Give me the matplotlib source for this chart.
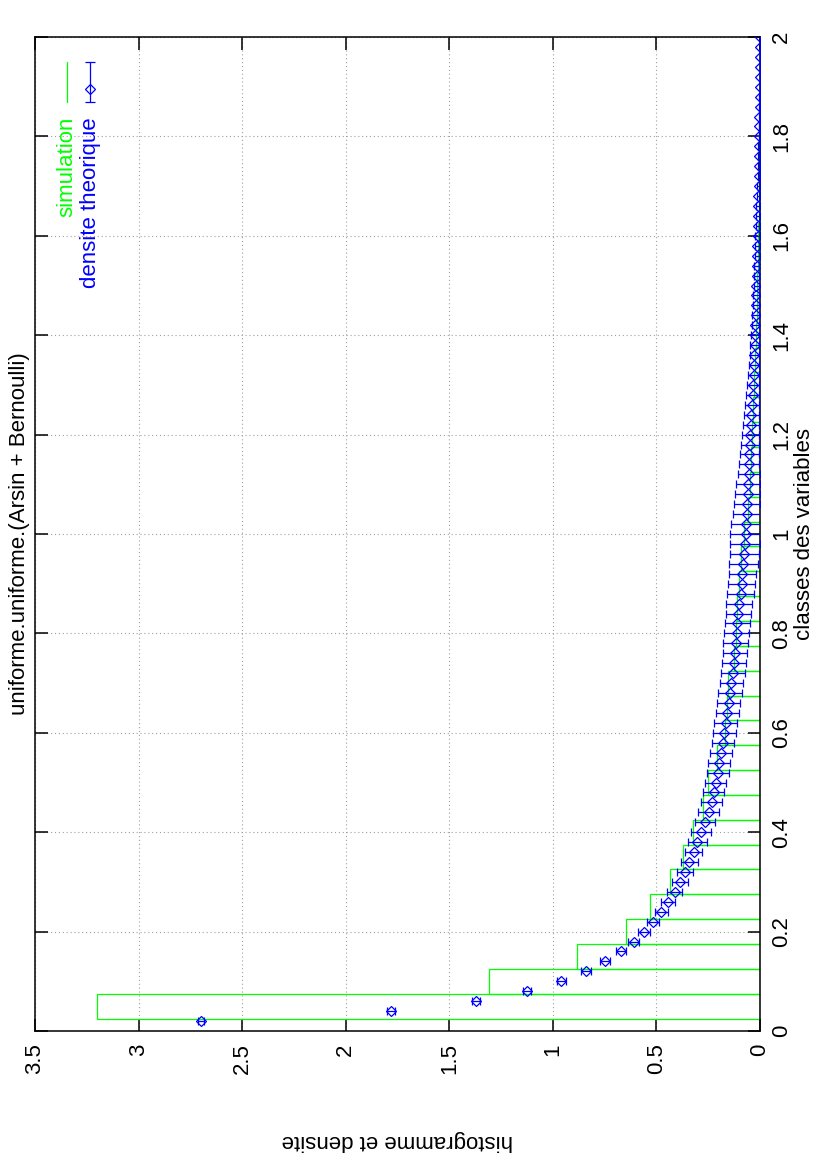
import numpy as np
import matplotlib
matplotlib.use("Agg")
import matplotlib.pyplot as plt

plt.rcParams["font.family"] = ["Liberation Sans", "DejaVu Sans"]
plt.rcParams["font.size"] = 16

# densite theorique : points tous les 0.02 sur [0.02, 2]
classes_pts = np.round(np.arange(1, 101) * 0.02, 2)
densite = [
    2.70, 1.78, 1.37, 1.125, 0.96, 0.84, 0.748, 0.672, 0.61, 0.56,
    0.515, 0.476, 0.443, 0.412, 0.386, 0.362, 0.341, 0.321, 0.303, 0.285,
    0.266, 0.248, 0.234, 0.223, 0.214, 0.205, 0.196, 0.188, 0.180, 0.173,
    0.165, 0.158, 0.151, 0.144, 0.138, 0.132, 0.127, 0.122, 0.118, 0.113,
    0.109, 0.104, 0.100, 0.094, 0.089, 0.085, 0.081, 0.077, 0.073, 0.069,
    0.066, 0.064, 0.062, 0.059, 0.057, 0.055, 0.053, 0.051, 0.049, 0.047,
    0.045, 0.042, 0.039, 0.036, 0.033, 0.031, 0.029, 0.027, 0.025, 0.024,
    0.022, 0.021, 0.019, 0.018, 0.017, 0.016, 0.015, 0.014, 0.013, 0.012,
    0.011, 0.010, 0.009, 0.008, 0.007, 0.006, 0.006, 0.005, 0.004, 0.004,
    0.003, 0.003, 0.002, 0.002, 0.001, 0.001, 0.001, 0.0005, 0.0002, 0.0,
]
erreur = [
    0.015, 0.020, 0.020, 0.021, 0.022, 0.023, 0.024, 0.025, 0.026, 0.027,
    0.029, 0.031, 0.033, 0.035, 0.037, 0.039, 0.041, 0.043, 0.045, 0.047,
    0.048, 0.049, 0.050, 0.051, 0.052, 0.053, 0.053, 0.054, 0.054, 0.055,
    0.055, 0.056, 0.056, 0.057, 0.057, 0.058, 0.058, 0.059, 0.059, 0.060,
    0.061, 0.062, 0.063, 0.064, 0.066, 0.067, 0.069, 0.070, 0.072, 0.074,
    0.072, 0.068, 0.064, 0.060, 0.057, 0.053, 0.050, 0.046, 0.043, 0.040,
    0.038, 0.035, 0.032, 0.030, 0.028, 0.026, 0.024, 0.022, 0.021, 0.020,
    0.018, 0.017, 0.016, 0.015, 0.014, 0.013, 0.012, 0.012, 0.011, 0.011,
    0.010, 0.009, 0.008, 0.007, 0.006, 0.005, 0.005, 0.004, 0.004, 0.003,
    0.003, 0.003, 0.002, 0.002, 0.001, 0.001, 0.001, 0.0005, 0.0002, 0.0,
]

# histogramme de la simulation : classes de largeur 0.05
classes_hist = np.round(np.arange(1, 41) * 0.05, 2)
histo = [
    3.20, 1.31, 0.885, 0.647, 0.533, 0.433, 0.370, 0.322, 0.274, 0.250,
    0.206, 0.170, 0.160, 0.153, 0.125, 0.118, 0.112, 0.100, 0.090, 0.075,
    0.060, 0.050, 0.045, 0.040, 0.035, 0.030, 0.025, 0.020, 0.016, 0.013,
    0.010, 0.008, 0.006, 0.005, 0.004, 0.003, 0.002, 0.001, 0.001, 0.0,
]

xticks = [0, 0.2, 0.4, 0.6, 0.8, 1, 1.2, 1.4, 1.6, 1.8, 2]
yticks = [0, 0.5, 1, 1.5, 2, 2.5, 3, 3.5]

W, H = 817, 1168
fig = plt.figure(figsize=(W / 100, H / 100), dpi=100)
ax = fig.add_axes([35 / W, 1 - 1031 / H, 725 / W, 994 / H])

# graphique tourne de 90 degres : densite a l'horizontale, classes a la verticale
ax.barh(classes_hist, histo, height=0.05, fill=False, edgecolor="#00ff00",
        linewidth=0.9, zorder=2)
ax.errorbar(densite, classes_pts, xerr=erreur, fmt="D", color="#0000ff",
            mfc="none", mec="#0000ff", ms=5.5, mew=0.9, elinewidth=0.9,
            capsize=2.6, capthick=0.9, zorder=3)

ax.set_xlim(3.5, 0)
ax.set_ylim(0, 2)
ax.set_xticks(yticks)
ax.set_xticklabels(["0", "0.5", "1", "1.5", "2", "2.5", "3", "3.5"])
ax.set_yticks(xticks)
ax.set_yticklabels(["0", "0.2", "0.4", "0.6", "0.8", "1", "1.2", "1.4", "1.6", "1.8", "2"])
ax.tick_params(direction="in", length=9, width=1.1, top=True, bottom=True,
               left=True, right=True, labelleft=False, labelright=True)
ax.tick_params(axis="x", labelrotation=90, pad=9)
ax.tick_params(axis="y", labelrotation=90, pad=8)
plt.setp(ax.get_yticklabels(), va="center")
ax.grid(True, color="#a0a0a0", linestyle=(0, (1, 2.5)), linewidth=0.8)
ax.set_axisbelow(True)
for s in ax.spines.values():
    s.set_linewidth(1.1)

# legende (a la maniere de gnuplot, tournee)
ax.plot([0.0441, 0.0441], [0.975, 0.9346], color="#00ff00", lw=0.9,
        transform=ax.transAxes)
ax.errorbar([0.0759], [0.9477], yerr=[[0.0135], [0.0268]], fmt="D",
            color="#0000ff", mfc="none", ms=5.5, mew=0.9, elinewidth=0.9,
            capsize=3.5, capthick=0.9, transform=ax.transAxes)
ax.text(0.0441, 0.9195, "simulation", color="#00ff00", rotation=90,
        ha="center", va="top", transform=ax.transAxes)
ax.text(0.0759, 0.9195, "densite theorique", color="#0000ff", rotation=90,
        ha="center", va="top", transform=ax.transAxes)

fig.text(20 / W, 1 - 534 / H, "uniforme.uniforme.(Arsin + Bernoulli)",
         rotation=90, ha="center", va="center")
fig.text(804 / W, 1 - 534 / H, "classes des variables",
         rotation=90, ha="center", va="center")
fig.text(397 / W, 1 - 1140 / H, "histogramme et densite",
         rotation=180, ha="center", va="center")

fig.savefig("out.png", dpi=100)
